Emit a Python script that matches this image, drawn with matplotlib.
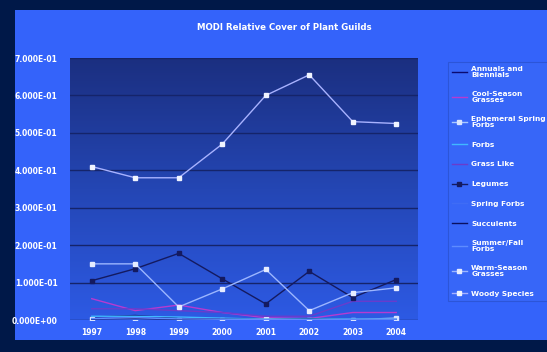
import numpy as np
import matplotlib
matplotlib.use("Agg")
from matplotlib import pyplot as plt
from matplotlib.patches import Rectangle
from matplotlib.colors import LinearSegmentedColormap
from matplotlib.ticker import FuncFormatter

# -----------------------------------------------------------------------------
# dados
# -----------------------------------------------------------------------------

anos = ["1997", "1998", "1999", "2000", "2001", "2002", "2003", "2004"]

guildas = [
    "Annuals and\nBiennials",
    "Cool-Season\nGrasses",
    "Ephemeral Spring\nForbs",
    "Forbs",
    "Grass Like",
    "Legumes",
    "Spring Forbs",
    "Succulents",
    "Summer/Fall\nForbs",
    "Warm-Season\nGrasses",
    "Woody Species",
]

anuais = [0.008, 0.012, 0.005, 0.003, 0.002, 0.004, 0.002, 0.003]
gramineas_frias = [0.057, 0.025, 0.040, 0.020, 0.006, 0.004, 0.020, 0.020]
efemeras = [0.002, 0.001, 0.001, 0.001, 0.003, 0.001, 0.001, 0.005]
forbs = [0.010, 0.010, 0.008, 0.005, 0.002, 0.004, 0.003, 0.002]
graminoides = [0.030, 0.030, 0.025, 0.020, 0.010, 0.010, 0.050, 0.050]
leguminosas = [0.105, 0.137, 0.178, 0.110, 0.043, 0.130, 0.060, 0.108]
primavera = [0.001, 0.001, 0.001, 0.000, 0.000, 0.001, 0.000, 0.000]
suculentas = [0.003, 0.004, 0.002, 0.002, 0.001, 0.002, 0.001, 0.001]
verao_outono = [0.004, 0.006, 0.003, 0.002, 0.001, 0.001, 0.002, 0.002]
gramineas_quentes = [0.150, 0.150, 0.035, 0.083, 0.135, 0.025, 0.073, 0.086]
lenhosas = [0.410, 0.380, 0.380, 0.470, 0.600, 0.655, 0.530, 0.525]

series = [anuais, gramineas_frias, efemeras, forbs, graminoides, leguminosas,
          primavera, suculentas, verao_outono, gramineas_quentes, lenhosas]

# -----------------------------------------------------------------------------
# estilo
# -----------------------------------------------------------------------------

cores = ["#0a0a70", "#b83ad0", "#a8c8ff", "#40b8ff", "#6a3ccc", "#141a60",
         "#3f6cf6", "#0a1060", "#5e8cff", "#9cb6ff", "#a8b2ff"]
marcadores = ["", "", "s", "", "", "s", "", "", "", "s", "s"]
cores_marcador = ["#0a0a70", "#e070e8", "#d8e4ff", "#40b8ff", "#6a3ccc",
                  "#141a60", "#3f6cf6", "#0a1060", "#5e8cff", "#e6ecff", "#f0f4ff"]

FUNDO = "#001848"
PAINEL = "#3463fa"

fig = plt.figure(figsize=(5.47, 3.52), dpi=100, facecolor=FUNDO)

# painel azul atrás de tudo
fundo_ax = fig.add_axes([0, 0, 1, 1], zorder=-10)
fundo_ax.set_axis_off()
fundo_ax.add_patch(Rectangle((15 / 547, 12 / 352), 532 / 547, 330 / 352,
                             transform=fundo_ax.transAxes, facecolor=PAINEL,
                             edgecolor="none"))

ax = fig.add_axes([70 / 547, 1 - 320 / 352, 348 / 547, 262 / 352])
ax.set_facecolor(PAINEL)

# degradê do fundo da área de plotagem
degrade = LinearSegmentedColormap.from_list("deg", ["#2d5ae4", "#2446b4", "#1b2f80"])
ax.imshow(np.linspace(0, 1, 256).reshape(-1, 1)[::-1], cmap=degrade, aspect="auto",
          extent=(0, 1, 0, 1), transform=ax.transAxes, zorder=0)

x = np.arange(len(anos))
for valores, nome, cor, mk, cm in zip(series, guildas, cores, marcadores, cores_marcador):
    ax.plot(x, valores, color=cor, lw=1.0, marker=mk if mk else "s",
            markersize=3 if mk else 0, markerfacecolor=cm, markeredgecolor=cm,
            label=nome, zorder=3)

ax.set_xlim(-0.5, len(anos) - 0.5)
ax.set_ylim(0, 0.7)
ax.set_yticks(np.arange(0, 0.71, 0.1))
ax.yaxis.set_major_formatter(FuncFormatter(lambda v, p: f"{v:.3E}"))
ax.set_xticks(x)
ax.set_xticklabels(anos)
ax.grid(axis="y", color="#15246a", lw=1.0, zorder=1)
ax.set_axisbelow(True)
ax.tick_params(length=0, colors="white", labelsize=5.5)
ax.tick_params(axis="y", pad=9)
ax.tick_params(axis="x", pad=6)
for rotulo in ax.get_xticklabels() + ax.get_yticklabels():
    rotulo.set_fontweight("bold")
for lado in ax.spines.values():
    lado.set_visible(False)

fig.text(284 / 547, 1 - 27 / 352, "MODI Relative Cover of Plant Guilds",
         ha="center", va="center", color="white", fontsize=6.2, fontweight="bold")

leg = ax.legend(loc="upper left", bbox_to_anchor=(444 / 547, 1 - 58 / 352),
                bbox_transform=fig.transFigure, frameon=True, fancybox=False,
                labelspacing=1.85, handlelength=2.0, handletextpad=0.6,
                borderpad=0.6, prop={"weight": "bold", "size": 5.3})
leg.get_frame().set_facecolor("#3868f8")
leg.get_frame().set_edgecolor("#2a52d0")
leg.get_frame().set_linewidth(0.8)
for texto in leg.get_texts():
    texto.set_color("white")
    texto.set_linespacing(0.9)

fig.savefig("out.png", dpi=100, facecolor=FUNDO)
